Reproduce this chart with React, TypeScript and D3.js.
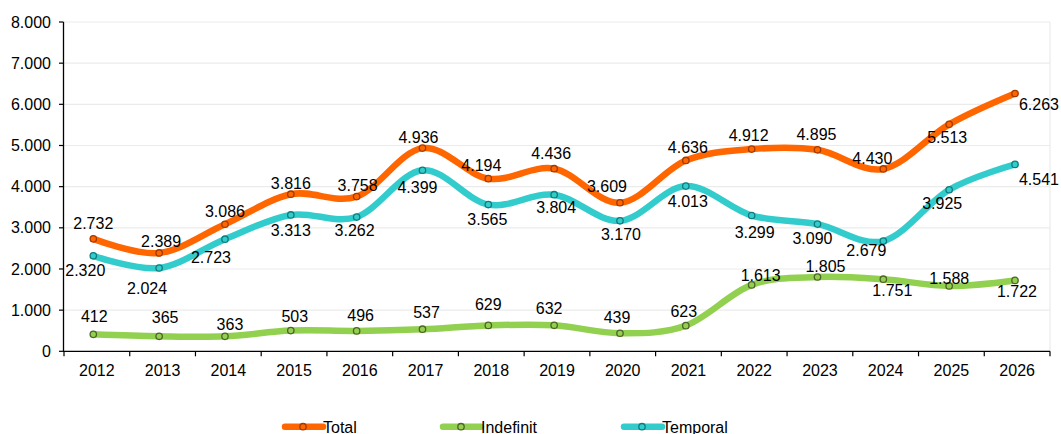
import React from "react";
import * as d3 from "d3";

const years = ["2012","2013","2014","2015","2016","2017","2018","2019","2020","2021","2022","2023","2024","2025","2026"];
const totalValues = [2732,2389,3086,3816,3758,4936,4194,4436,3609,4636,4912,4895,4430,5513,6263];
const indefinitValues = [412,365,363,503,496,537,629,632,439,623,1613,1805,1751,1588,1722];
const temporalValues = [2320,2024,2723,3313,3262,4399,3565,3804,3170,4013,3299,3090,2679,3925,4541];
const yTicks = [0,1000,2000,3000,4000,5000,6000,7000,8000];

// label offsets (dx, dy) relative to each point
const totalLabelOffsets = [[0,-15],[2,-12],[0,-13],[0,-11],[1,-11],[-4,-11],[-7,-13],[-3,-15],[-13,-16],[2,-13],[-3,-14],[-1,-15],[-11,-11],[-2,13],[24,11]];
const temporalLabelOffsets = [[-8,15],[-12,20],[-14,18],[0,15],[-2,13],[-5,17],[-1,15],[2,13],[1,14],[2,15],[3,17],[-5,14],[-17,9],[-7,14],[24,15]];
const indefinitLabelOffsets = [[1,-18],[6,-19],[5,-12],[4,-14],[4,-15],[4,-17],[0,-21],[-5,-17],[-3,-16],[-2,-14],[9,-10],[8,-11],[9,11],[0,-8],[2,11]];

const fmt = (v: number) => d3.format(",")(v).replace(/,/g, ".");

const W = 1061, H = 434;
const FONT = "'Liberation Sans', Arial, sans-serif";

export default function App() {
  const plotLeft = 64, plotRight = 1050, plotTop = 22, plotBottom = 351.3;
  const xBand = d3.scaleBand<string>().domain(years).range([plotLeft, plotRight]).padding(0);
  const xPt = d3.scalePoint<string>().domain(years).range([93.3, 1015]);
  const y = d3.scaleLinear().domain([0, 8000]).range([plotBottom, plotTop]);

  const line = d3.line<number>()
    .x((_, i) => xPt(years[i]) as number)
    .y((d) => y(d))
    .curve(d3.curveCardinal.tension(0));

  const series = [
    { name: "Total", values: totalValues, color: "#FF6600", mk: "#A33A00", offs: totalLabelOffsets },
    { name: "Temporal", values: temporalValues, color: "#33CCCC", mk: "#0E7C7C", offs: temporalLabelOffsets },
    { name: "Indefinit", values: indefinitValues, color: "#92D050", mk: "#4F6228", offs: indefinitLabelOffsets },
  ];

  const legend = [
    { name: "Total", color: "#FF6600", mk: "#A33A00", x: 285 },
    { name: "Indefinit", color: "#92D050", mk: "#4F6228", x: 443 },
    { name: "Temporal", color: "#33CCCC", mk: "#0E7C7C", x: 624 },
  ];

  const boundaries = years.map((yr) => xBand(yr) as number).concat([plotRight]);

  return (
    <svg width={W} height={H} style={{ position: "absolute", left: 0, top: 0, background: "#fff" }} fontFamily={FONT}>
      {/* gridlines */}
      {yTicks.filter((t) => t > 0).map((t) => (
        <line key={t} x1={plotLeft} x2={plotRight} y1={y(t)} y2={y(t)} stroke="#EBEBEB" strokeWidth={1.2} />
      ))}
      <line x1={plotRight} x2={plotRight} y1={plotTop} y2={plotBottom} stroke="#EBEBEB" strokeWidth={1.2} />

      {/* y axis */}
      <line x1={63.5} x2={63.5} y1={plotTop} y2={plotBottom} stroke="#000" strokeWidth={1.3} />
      {yTicks.map((t) => (
        <g key={t}>
          <line x1={59} x2={63.5} y1={y(t)} y2={y(t)} stroke="#000" strokeWidth={1.2} />
          <text x={51} y={y(t)} dy="0.35em" textAnchor="end" fontSize={16} fill="#000">{fmt(t)}</text>
        </g>
      ))}

      {/* x axis */}
      <line x1={63} x2={plotRight} y1={plotBottom} y2={plotBottom} stroke="#000" strokeWidth={1.3} />
      {boundaries.map((b, i) => (
        <line key={i} x1={b} x2={b} y1={plotBottom} y2={plotBottom + 5} stroke="#000" strokeWidth={1.2} />
      ))}
      {years.map((yr) => (
        <text key={yr} x={(xBand(yr) as number) + xBand.bandwidth() / 2} y={370} dy="0.35em" textAnchor="middle" fontSize={16} fill="#000">{yr}</text>
      ))}

      {/* series */}
      {series.map((s) => (
        <g key={s.name}>
          <path d={line(s.values) as string} fill="none" stroke={s.color} strokeWidth={6.5} strokeLinecap="round" strokeLinejoin="round" />
          {s.values.map((v, i) => (
            <circle key={i} cx={xPt(years[i]) as number} cy={y(v)} r={3.2} fill={s.color} stroke={s.mk} strokeWidth={1.3} />
          ))}
        </g>
      ))}
      {series.map((s) => (
        <g key={s.name + "-labels"}>
          {s.values.map((v, i) => (
            <text key={i} x={(xPt(years[i]) as number) + s.offs[i][0]} y={y(v) + s.offs[i][1]} dy="0.35em" textAnchor="middle" fontSize={16} fill="#000">{fmt(v)}</text>
          ))}
        </g>
      ))}

      {/* legend */}
      {legend.map((l) => (
        <g key={l.name}>
          <line x1={l.x} x2={l.x + 38} y1={426.7} y2={426.7} stroke={l.color} strokeWidth={6.5} strokeLinecap="round" />
          <circle cx={l.x + 18} cy={426.7} r={3.2} fill={l.color} stroke={l.mk} strokeWidth={1.3} />
          <text x={l.x + 38} y={432.5} fontSize={16} fill="#000">{l.name}</text>
        </g>
      ))}
    </svg>
  );
}
